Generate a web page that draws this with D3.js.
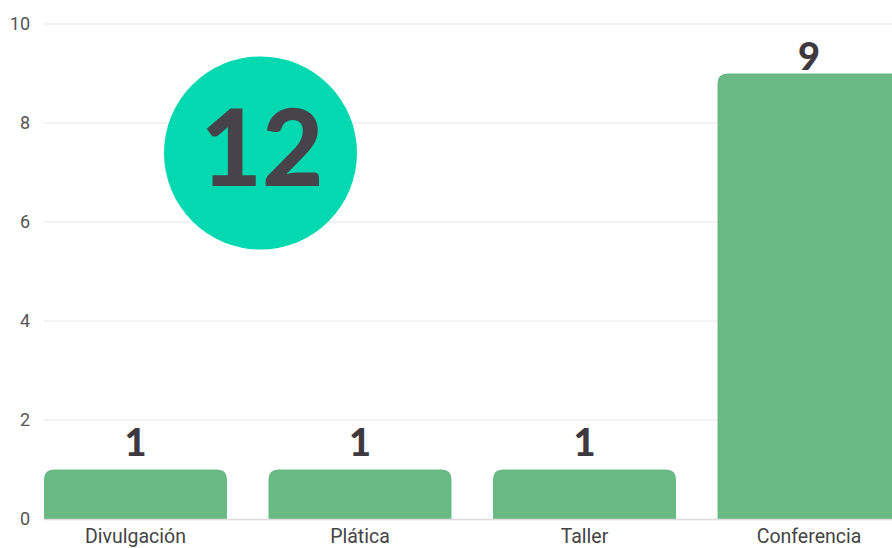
<!DOCTYPE html>
<html><head><meta charset="utf-8">
<script src="https://cdn.jsdelivr.net/npm/d3@7"></script>
<style>body{margin:0;background:#fff;overflow:hidden}svg{display:block}</style>
</head><body>
<svg id="c" width="892" height="548"></svg>
<script>
const categories = ["Divulgación", "Plática", "Taller", "Conferencia"];
const values = [1, 1, 1, 9];
const yTicks = [0, 2, 4, 6, 8, 10];
const totalLabel = "12";

const svg = d3.select("#c");
const x = d3.scaleBand().domain(categories).range([44, 900.5]).paddingInner(0.185).paddingOuter(0);
const y = d3.scaleLinear().domain([0, 10]).range([519, 24]);

// grid
svg.append("g").selectAll("line").data(yTicks.filter(d => d > 0)).join("line")
  .attr("x1", 44).attr("x2", 892).attr("y1", d => y(d)).attr("y2", d => y(d))
  .attr("stroke", "#efefef").attr("stroke-width", 1.5);

// y axis labels
const ya = svg.append("g").attr("transform", "translate(30,0)")
  .call(d3.axisLeft(y).tickValues(yTicks).tickSize(0).tickPadding(0));
ya.select(".domain").remove();
ya.selectAll("text").attr("font-family", "Roboto, sans-serif").attr("font-size", 18).attr("fill", "#555");

// bars with rounded top corners
const r = 10;
svg.append("g").selectAll("path").data(values).join("path")
  .attr("fill", "#68b984")
  .attr("d", (d, i) => {
    const x0 = x(categories[i]), w = x.bandwidth(), y0 = y(d), yb = y(0);
    return `M${x0},${yb}V${y0 + r}Q${x0},${y0} ${x0 + r},${y0}H${x0 + w - r}Q${x0 + w},${y0} ${x0 + w},${y0 + r}V${yb}Z`;
  });

// baseline
svg.append("line").attr("x1", 44).attr("x2", 892).attr("y1", y(0) + 0.5).attr("y2", y(0) + 0.5)
  .attr("stroke", "#dcdcdc").attr("stroke-width", 1.5);

// x axis labels
const xa = svg.append("g").attr("transform", `translate(0,${y(0)})`)
  .call(d3.axisBottom(x).tickSize(0).tickPadding(10));
xa.select(".domain").remove();
xa.selectAll("text").attr("font-family", "Roboto, sans-serif").attr("font-size", 19.5).attr("fill", "#444");

// value labels
svg.append("g").selectAll("text").data(values).join("text")
  .attr("x", (d, i) => x(categories[i]) + x.bandwidth() / 2)
  .attr("y", d => Math.max(y(d) - 14, 70))
  .attr("text-anchor", "middle")
  .attr("font-family", "Lato, 'Open Sans', sans-serif").attr("font-weight", 900)
  .attr("font-size", 38).attr("fill", "#3d393f")
  .text(d => d);

// total circle
svg.append("circle").attr("cx", 260.5).attr("cy", 153).attr("r", 96.5).attr("fill", "#03d9b0");
svg.append("text").attr("x", 262).attr("y", 186)
  .attr("text-anchor", "middle")
  .attr("font-family", "Lato, 'Open Sans', sans-serif").attr("font-weight", 900)
  .attr("font-size", 106).attr("fill", "#47434a")
  .text(totalLabel);
</script>
</body></html>
